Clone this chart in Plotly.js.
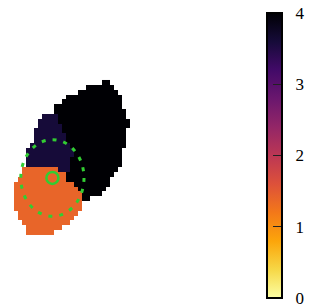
<!DOCTYPE html>
<html>
<head>
<meta charset="utf-8">
<script src="https://cdn.plot.ly/plotly-3.0.1.min.js"></script>
<style>html,body{margin:0;padding:0;background:#fff;}#plot{width:323px;height:308px;}</style>
</head>
<body>
<div id="plot"></div>
<script>
// Region map: one string per grid row, one char per cell.
// '.' = empty, 'o' = orange region, 'p' = dark purple region, 'k' = black region
const rowMaps = [
  "......................kk",
  "..................kkkkkkk",
  "................kkkkkkkkkk",
  ".............kkkkkkkkkkkkkk",
  "............kkkkkkkkkkkkkkk",
  "..........kkkkkkkkkkkkkkkkk",
  "..........kkkkkkkkkkkkkkkkkk",
  ".......ppppkkkkkkkkkkkkkkkkk",
  "......pppppkkkkkkkkkkkkkkkkkk",
  "......ppppppkkkkkkkkkkkkkkkkk",
  ".....pppppppkkkkkkkkkkkkkkkk",
  ".....ppppppppkkkkkkkkkkkkkkk",
  ".....ppppppppkkkkkkkkkkkkkkk",
  "....ppppppppppkkkkkkkkkkkkkk",
  "...ppppppppppppkkkkkkkkkkkk",
  "...ppppppppppppkkkkkkkkkkkk",
  "...pppppppppppkkkkkkkkkkkkk",
  "...pppppppppppkkkkkkkkkkkkk",
  "..ooooooooopppkkkkkkkkkkkk",
  "..oooooooooookkkkkkkkkkkk",
  ".ooooooooooookkkkkkkkkkk",
  "oooooooooooooookkkkkkkkk",
  "ooooooooooooooookkkkkkk",
  "oooooooooooooooookkkkk",
  "oooooooooooooooookk",
  "ooooooooooooooooo",
  "ooooooooooooooooo",
  ".ooooooooooooooo",
  ".oooooooooooooo",
  "..oooooooooooo",
  "...ooooooooo",
  "...ooooooo"
];
const regionCodes = ["o", "p", "k"];
const regionValues = [1.4, 3.6, 4];

// Green reference circle and its centre (data units)
const circleCenterX = [9.1];
const circleCenterY = [19.7];
const circleRadius = [7.9];

// Colour bar
const tickVals = [0, 1, 2, 3, 4];
const tickText = ["0", "1", "2", "3", "4"];
const infernoStops = [0, 0.1, 0.2, 0.3, 0.4, 0.5, 0.6, 0.7, 0.8, 0.9, 1];
const infernoColors = ["#fcffa4", "#f6d746", "#fca50a", "#f37819", "#dd513a", "#bc3754",
                       "#932667", "#6a176e", "#420a68", "#160b39", "#000004"];

const nCols = Math.max(...rowMaps.map(r => r.length));
const z = rowMaps.map(r => {
  const out = [];
  for (let i = 0; i < nCols; i++) {
    const idx = regionCodes.indexOf(r[i]);
    out.push(idx >= 0 ? regionValues[idx] : null);
  }
  return out;
});
const colorscale = infernoStops.map((s, i) => [s, infernoColors[i]]);

const W = 323, H = 308;
const heat = {
  type: "heatmap",
  z: z,
  zmin: 0, zmax: 4,
  colorscale: colorscale,
  zsmooth: false,
  hoverinfo: "skip",
  colorbar: {
    x: 267 / W, xanchor: "left", xpad: 0,
    y: 1 - 13 / H, yanchor: "top", ypad: 0,
    len: 285 / H, lenmode: "fraction",
    thickness: 15, thicknessmode: "pixels",
    outlinewidth: 2, outlinecolor: "#000",
    tickmode: "array", tickvals: tickVals,
    ticktext: tickText.map(t => "\u00a0\u00a0" + t),
    ticks: "inside", ticklen: 10, tickwidth: 1, tickcolor: "#222",
    ticklabeloverflow: "allow",
    tickfont: {family: "Liberation Serif, Times New Roman, serif", size: 17, color: "#000"}
  }
};
const centre = {
  type: "scatter", mode: "markers",
  x: circleCenterX, y: circleCenterY,
  marker: {symbol: "circle-open", size: 12, color: "#32cd32", line: {width: 2.5, color: "#32cd32"}},
  hoverinfo: "skip", showlegend: false
};
const shapes = circleCenterX.map((cx, i) => ({
  type: "circle", xref: "x", yref: "y",
  x0: cx - circleRadius[i], x1: cx + circleRadius[i],
  y0: circleCenterY[i] - circleRadius[i], y1: circleCenterY[i] + circleRadius[i],
  line: {color: "#32cd32", width: 3, dash: "4px,7px"}
}));

Plotly.newPlot("plot", [heat, centre], {
  width: W, height: H,
  margin: {l: 0, r: 0, t: 0, b: 0, pad: 0},
  paper_bgcolor: "#fff", plot_bgcolor: "#fff",
  font: {family: "Liberation Serif, Times New Roman, serif"},
  showlegend: false,
  xaxis: {visible: false, range: [-4, -4 + W / 4], fixedrange: true},
  yaxis: {visible: false, range: [-16.99 + H / 4.85, -16.99], fixedrange: true},
  shapes: shapes
}, {staticPlot: true, displayModeBar: false});
</script>
</body>
</html>
